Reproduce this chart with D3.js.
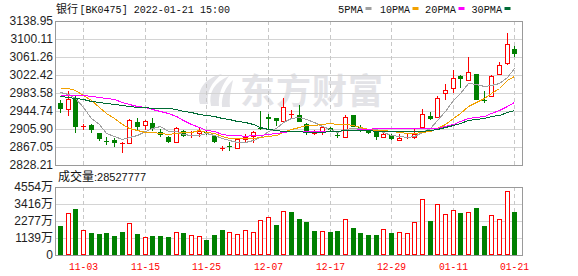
<!DOCTYPE html>
<html>
<head>
<meta charset="utf-8">
<script src="https://cdn.jsdelivr.net/npm/d3@7"></script>
<style>
  html, body { margin: 0; padding: 0; background: #fff; }
  svg { display: block; }
</style>
</head>
<body>
<svg id="chart" width="578" height="276"></svg>
<script>
// trading days shown (MM-DD)
const dates = ['10-29','11-01','11-02','11-03','11-04','11-05','11-08','11-09','11-10','11-11',
  '11-12','11-15','11-16','11-17','11-18','11-19','11-22','11-23','11-24','11-25',
  '11-26','11-29','11-30','12-01','12-02','12-03','12-06','12-07','12-08','12-09',
  '12-10','12-13','12-14','12-15','12-16','12-17','12-20','12-21','12-22','12-23',
  '12-24','12-27','12-28','12-29','12-30','12-31','01-04','01-05','01-06','01-07',
  '01-10','01-11','01-12','01-13','01-14','01-17','01-18','01-19','01-20','01-21'];

const opens = [2962.6,2948.4,2973.4,2911.5,2913.9,2896.6,2880.6,2882.1,2875.0,2875.0,
  2921.6,2913.9,2919.4,2900.1,2888.0,2877.8,2900.9,2891.0,2896.6,2899.0,
  2890.8,2864.2,2868.5,2864.2,2883.6,2890.8,2908.8,2932.5,2929.6,2923.2,
  2937.3,2935.4,2915.9,2896.3,2901.6,2908.8,2892.0,2889.4,2936.0,2910.9,
  2903.7,2900.1,2889.4,2893.0,2882.2,2889.2,2889.0,2911.0,2934.0,2931.1,
  2982.8,2993.6,3021.0,3011.6,3024.6,2968.8,2977.1,3023.9,3047.6,3078.5];
const highs = [2968.5,2988.5,2977.1,2916.0,2916.7,2897.9,2887.9,2886.4,2877.8,2926.8,
  2928.9,2925.3,2928.9,2905.2,2890.8,2909.6,2903.7,2900.9,2909.6,2901.5,
  2893.0,2869.2,2878.6,2885.8,2894.4,2901.6,2945.5,2937.5,2929.6,2972.1,
  2946.9,2957.0,2918.0,2903.7,2911.0,2911.0,2896.5,2936.0,2936.0,2913.8,
  2905.0,2902.0,2896.5,2895.1,2894.4,2894.4,2907.0,2949.0,2942.6,2977.1,
  3003.0,3033.2,3022.4,3062.0,3024.6,2987.9,3022.4,3049.8,3113.8,3085.0];
const lows = [2941.0,2934.6,2897.9,2903.7,2897.9,2880.6,2870.7,2866.4,2854.7,2873.5,
  2903.7,2903.7,2902.2,2888.0,2876.3,2876.3,2889.3,2885.8,2889.3,2893.0,
  2876.4,2859.1,2859.1,2864.0,2875.0,2875.0,2903.7,2903.7,2912.4,2918.1,
  2927.5,2921.7,2893.0,2893.0,2893.0,2900.0,2885.8,2889.4,2909.5,2900.1,
  2895.0,2882.2,2887.9,2882.2,2882.2,2885.0,2883.6,2909.5,2925.3,2928.9,
  2968.5,2982.8,2995.1,3009.5,2968.5,2961.3,2975.7,3022.4,3044.0,3062.0];
const closes = [2948.4,2971.3,2910.9,2912.4,2903.7,2883.6,2877.8,2876.3,2875.3,2925.3,
  2910.9,2923.1,2906.5,2892.3,2877.8,2907.4,2890.8,2892.5,2901.6,2897.5,
  2878.6,2864.6,2867.6,2883.6,2889.4,2900.1,2905.2,2926.8,2923.2,2952.6,
  2937.6,2921.7,2901.6,2896.6,2909.5,2903.7,2891.3,2931.1,2909.5,2905.2,
  2896.5,2889.4,2895.1,2883.6,2887.2,2889.4,2896.0,2937.5,2927.5,2972.1,
  2990.0,3016.0,3014.0,3028.2,2968.5,2968.1,3020.2,3044.0,3089.3,3067.7];

// volume in 万
const volumes = [1942,2790,3103,1674,1473,1406,1473,1272,1540,2120,
  1406,1205,1272,1272,1205,1518,1473,1339,1272,1004,
  1339,1674,1518,1406,1652,1518,2321,2522,2009,2924,
  2857,2411,2210,1607,1585,1540,1607,2388,1808,1473,
  1339,1339,1719,1473,1518,1451,2187,3727,2277,3393,
  2723,2991,2812,2857,3147,1942,2656,2411,4263,2852.78];

const ma5 = [2986.4,2982.1,2973.5,2954.0,2929.3,2916.4,2897.7,2890.8,2883.3,2887.7,
  2893.1,2902.2,2908.2,2911.6,2902.1,2901.4,2895.0,2892.2,2894.0,2898.0,
  2892.2,2887.0,2882.0,2878.4,2876.8,2881.1,2889.2,2901.0,2908.9,2921.6,
  2929.1,2932.4,2927.3,2922.0,2913.4,2906.6,2900.5,2906.4,2909.0,2908.2,
  2906.7,2906.3,2899.1,2894.0,2890.4,2888.9,2890.3,2898.7,2907.5,2924.5,
  2944.6,2968.6,2983.9,3004.1,3003.3,2999.0,2999.8,3005.8,3018.0,3037.9];
const ma10 = [2995.1,2994.4,2990.1,2979.3,2968.5,2953.0,2941.0,2930.0,2917.0,2908.5,
  2904.8,2899.9,2899.5,2897.5,2894.9,2897.3,2898.6,2900.2,2902.8,2900.0,
  2896.8,2891.0,2887.1,2886.2,2887.4,2886.6,2888.1,2891.5,2893.7,2899.2,
  2905.1,2910.8,2914.2,2915.5,2917.5,2917.9,2916.5,2916.9,2915.5,2910.8,
  2906.7,2903.4,2902.8,2901.5,2899.3,2897.8,2898.3,2898.9,2900.7,2907.4,
  2916.8,2929.4,2941.3,2955.8,2963.9,2971.8,2984.2,2994.9,3011.0,3020.6];
const ma20 = [2979.3,2979.3,2978.5,2978.5,2977.1,2975.7,2973.5,2969.9,2964.9,2959.1,
  2955.5,2952.6,2949.8,2945.5,2940.5,2933.0,2924.5,2916.5,2909.8,2904.3,
  2900.8,2895.5,2893.3,2891.9,2891.2,2892.0,2893.4,2895.9,2898.3,2899.6,
  2901.0,2900.9,2900.7,2900.9,2902.5,2902.3,2902.3,2904.2,2904.6,2905.0,
  2905.9,2907.1,2908.5,2908.5,2908.4,2907.9,2907.4,2907.9,2908.1,2909.1,
  2911.8,2916.4,2922.1,2928.7,2931.6,2934.8,2941.3,2946.9,2955.9,2964.0];
const ma30 = [2977.1,2975.7,2972.8,2969.9,2966.3,2964.2,2961.3,2959.1,2957.0,2954.8,
  2953.4,2952.6,2951.9,2951.9,2951.2,2948.3,2944.7,2941.9,2939.0,2936.8,
  2933.9,2930.4,2926.8,2923.9,2920.3,2916.0,2910.9,2906.6,2904.5,2902.6,
  2902.2,2900.6,2900.3,2899.7,2899.9,2900.6,2901.1,2902.9,2904.0,2903.3,
  2902.9,2901.7,2901.4,2901.1,2901.4,2900.8,2901.0,2902.4,2903.3,2905.8,
  2909.5,2914.5,2919.4,2924.3,2926.9,2929.2,2933.0,2936.9,2942.4,2946.3];

const priceTicks = ['2828.21','2867.05','2905.90','2944.74','2983.58','3022.42','3061.26','3100.11','3138.95'];
const volTicks = [0, 1139, 2277, 3416, 4554];
const volTickLabels = ['0', '1139万', '2277万', '3416万', '4554万'];
const xTickDates = ['11-03','11-15','11-25','12-07','12-17','12-29','01-11','01-21'];
const titleName = '银行';
const titleCode = '[BK0475] 2022-01-21 15:00';
const lastVolume = '28527777';
const maNames = ['5PMA', '10PMA', '20PMA', '30PMA'];

const RED = '#ff0000', GREEN = '#008000';
const maColors = ['#a0a0a0', '#f2a100', '#ff00ff', '#006b35'];

const svg = d3.select('#chart');
const left = 55, right = 522, pTop = 21, pBot = 165, vTop = 187, vBot = 255;

const x = d3.scaleBand().domain(d3.range(dates.length)).range([56.2, 518.2]);
const cx = i => Math.round(x(i) + x.bandwidth() / 2);
const y = d3.scaleLinear().domain([+priceTicks[0], +priceTicks[priceTicks.length - 1]]).range([pBot, pTop]);
const yv = d3.scaleLinear().domain([0, volTicks[volTicks.length - 1]]).range([vBot, vTop]);

// watermark
const wm = svg.append('g').attr('fill', '#e3e3e7');
wm.append('path').attr('d', 'M200,104 C196,90 205,78 222,74 C212,82 206,92 208,104 Z');
wm.append('path').attr('d', 'M211,106 C208,92 215,82 229,76 C222,85 218,95 219,106 Z');
wm.append('path').attr('d', 'M222,107 C221,96 226,86 233,80 C231,90 229,98 230,107 Z');
wm.append('text').attr('x', 240).attr('y', 104)
  .style('font-family', '"Noto Sans CJK SC"').style('font-weight', 'bold')
  .style('font-size', '35px').style('letter-spacing', '1px')
  .text('东方财富');

// horizontal grid
svg.append('g').attr('transform', `translate(${left},0)`)
  .call(d3.axisLeft(y).tickValues(priceTicks.map(Number)).tickSize(-(right - left)).tickFormat(''))
  .call(g => g.select('.domain').remove())
  .call(g => g.selectAll('line').attr('stroke', '#d4d4d4'));
svg.append('g').attr('transform', `translate(${left},0)`)
  .call(d3.axisLeft(yv).tickValues(volTicks).tickSize(-(right - left)).tickFormat(''))
  .call(g => g.select('.domain').remove())
  .call(g => g.selectAll('line').attr('stroke', '#d4d4d4'));

// vertical dashed grid at date ticks
const tickIdx = xTickDates.map(d => dates.indexOf(d));
[[pTop, pBot], [vTop, vBot]].forEach(([t, b]) => {
  svg.append('g').selectAll('line').data(tickIdx).enter().append('line')
    .attr('x1', i => cx(i) + 0.5).attr('x2', i => cx(i) + 0.5)
    .attr('y1', t).attr('y2', b)
    .attr('stroke', '#c8c8c8').attr('stroke-dasharray', '4,3');
});

// panel borders
svg.append('rect').attr('x', left + 0.5).attr('y', pTop + 0.5)
  .attr('width', right - left).attr('height', pBot - pTop)
  .attr('fill', 'none').attr('stroke', '#9a9a9a');
svg.append('rect').attr('x', left + 0.5).attr('y', vTop + 0.5)
  .attr('width', right - left).attr('height', vBot - vTop)
  .attr('fill', 'none').attr('stroke', '#9a9a9a');

// candles
const idx = d3.range(dates.length);
const candles = svg.append('g').attr('shape-rendering', 'crispEdges');
candles.selectAll('rect.wick').data(idx).enter().append('rect')
  .attr('class', 'wick')
  .attr('x', i => cx(i)).attr('width', 1)
  .attr('y', i => Math.round(y(highs[i])))
  .attr('height', i => Math.max(1, Math.round(y(lows[i])) - Math.round(y(highs[i]))))
  .attr('fill', i => closes[i] >= opens[i] ? RED : GREEN);
candles.selectAll('rect.body').data(idx).enter().append('rect')
  .attr('class', 'body')
  .each(function (i) {
    const up = closes[i] >= opens[i];
    const t = Math.round(y(Math.max(opens[i], closes[i])));
    const b = Math.round(y(Math.min(opens[i], closes[i])));
    const el = d3.select(this);
    if (up && b - t >= 2) {
      el.attr('x', cx(i) - 1.5).attr('y', t + 0.5).attr('width', 4).attr('height', b - t)
        .attr('fill', '#fff').attr('stroke', RED);
    } else {
      el.attr('x', cx(i) - 2).attr('y', t).attr('width', 5).attr('height', Math.max(1, b - t))
        .attr('fill', up ? RED : GREEN);
    }
  });

// moving averages (drawn aliased like the original)
const line = d3.line().x((d, i) => cx(i) + 0.5).y(d => Math.round(y(d)) + 0.5);
[ma5, ma10, ma20, ma30].forEach((s, k) => {
  svg.append('path').datum(s).attr('d', line)
    .attr('fill', 'none').attr('stroke', maColors[k]).attr('stroke-width', 1)
    .attr('shape-rendering', 'crispEdges');
});

// volume bars, coloured against previous close
const volUp = i => i === 0 ? closes[0] >= opens[0] : closes[i] >= closes[i - 1];
svg.append('g').attr('shape-rendering', 'crispEdges')
  .selectAll('rect').data(idx).enter().append('rect')
  .each(function (i) {
    const t = Math.round(yv(volumes[i]));
    const el = d3.select(this);
    if (volUp(i)) {
      el.attr('x', cx(i) - 1.5).attr('y', t + 0.5).attr('width', 4).attr('height', vBot - t - 1)
        .attr('fill', '#fff').attr('stroke', RED);
    } else {
      el.attr('x', cx(i) - 2).attr('y', t).attr('width', 5).attr('height', vBot - t)
        .attr('fill', GREEN);
    }
  });

// y axis labels
const labelStyle = g => g
  .call(g => g.select('.domain').remove())
  .call(g => g.selectAll('line').remove())
  .call(g => g.selectAll('text')
    .style('font-family', '"Liberation Sans", "Noto Sans CJK SC", sans-serif')
    .style('font-size', '12px').attr('fill', '#1e1e1e'));
svg.append('g').attr('transform', `translate(${left},0)`)
  .call(d3.axisLeft(y).tickValues(priceTicks.map(Number)).tickSize(0).tickPadding(2)
    .tickFormat((d, i) => priceTicks[i]))
  .call(labelStyle);
svg.append('g').attr('transform', `translate(${left},0)`)
  .call(d3.axisLeft(yv).tickValues(volTicks).tickSize(0).tickPadding(2)
    .tickFormat((d, i) => volTickLabels[i]))
  .call(labelStyle);

// x axis labels
svg.append('g').attr('transform', `translate(0,${vBot})`)
  .call(d3.axisBottom(x).tickValues(tickIdx).tickSize(0).tickFormat(i => dates[i]))
  .call(g => g.select('.domain').remove())
  .call(g => g.selectAll('.tick').attr('transform', i => `translate(${cx(i) + 0.5},0)`))
  .call(g => g.selectAll('text')
    .attr('y', 14.5).attr('dy', 0)
    .attr('textLength', 29).attr('lengthAdjust', 'spacingAndGlyphs')
    .style('font-family', '"Liberation Mono", monospace').style('font-size', '11px')
    .attr('fill', RED));

// title
const mono = '"Liberation Mono", monospace';
svg.append('text').attr('x', 56).attr('y', 13)
  .style('font-family', '"Noto Sans CJK SC"').style('font-size', '11px').attr('fill', '#111')
  .text(titleName);
svg.append('text').attr('x', 79.5).attr('y', 12.5)
  .attr('textLength', 150.5).attr('lengthAdjust', 'spacingAndGlyphs')
  .style('font-family', mono).style('font-size', '11px').attr('fill', '#111')
  .text(titleCode);

// legend
const legendX = [338, 380, 425, 471.5];
const legendW = [25, 30, 31, 30.5];
const lg = svg.append('g');
maNames.forEach((n, k) => {
  lg.append('text').attr('x', legendX[k]).attr('y', 12.5)
    .attr('textLength', legendW[k]).attr('lengthAdjust', 'spacingAndGlyphs')
    .style('font-family', mono).style('font-size', '11px').attr('fill', '#111')
    .text(n);
  lg.append('rect').attr('x', legendX[k] + legendW[k] + 2.5).attr('y', 7)
    .attr('width', 6).attr('height', 3).attr('fill', maColors[k]);
});

// volume caption
const cap = svg.append('text').attr('x', 58).attr('y', 181).attr('fill', '#111');
cap.append('tspan').style('font-family', '"Noto Sans CJK SC"').style('font-size', '12px').text('成交量');
cap.append('tspan').style('font-family', '"Liberation Sans"').style('font-size', '11px').text(':' + lastVolume);
</script>
</body>
</html>
